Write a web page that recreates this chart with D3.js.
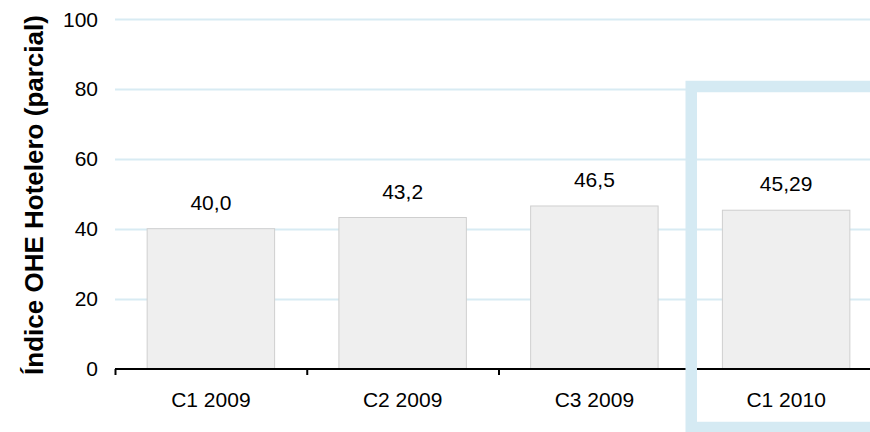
<!DOCTYPE html>
<html><head><meta charset="utf-8">
<script src="https://cdn.jsdelivr.net/npm/d3@7"></script>
<style>body{margin:0;background:#fff}svg{display:block}text{font-family:Arial,"Liberation Sans",sans-serif}</style>
</head><body>
<script>
const categories = ["C1 2009","C2 2009","C3 2009","C1 2010"];
const values = [40.0, 43.2, 46.5, 45.29];
const valueLabels = ["40,0","43,2","46,5","45,29"];
const yTicks = [0,20,40,60,80,100];
const highlighted = "C1 2010";

const W=870,H=432;
const svg=d3.select("body").append("svg").attr("width",W).attr("height",H);
const x=d3.scaleBand().domain(categories).range([115,882]).paddingInner(0.33).paddingOuter(0.165);
const xb=d3.scaleBand().domain(categories).range([115,882]);
const y=d3.scaleLinear().domain([0,100]).range([368.5,19]);

// grid
svg.append("g").selectAll("line").data(yTicks.filter(d=>d>0)).join("line")
 .attr("x1",115).attr("x2",W).attr("y1",d=>Math.round(y(d))+0.5).attr("y2",d=>Math.round(y(d))+0.5)
 .attr("stroke","#d8ebf3").attr("stroke-width",2);
// y labels
svg.append("g").selectAll("text").data(yTicks).join("text")
 .attr("x",98).attr("y",d=>y(d)+7.5).attr("text-anchor","end")
 .attr("font-size",21).attr("fill","#000").text(d=>d);
// bars
svg.append("g").selectAll("rect").data(values).join("rect")
 .attr("x",(d,i)=>x(categories[i])+0.5).attr("width",x.bandwidth()-1)
 .attr("y",d=>y(d)).attr("height",d=>y(0)-y(d))
 .attr("fill","#efefef").attr("stroke","#cfcfcf").attr("stroke-width",1);
// value labels
svg.append("g").selectAll("text").data(values).join("text")
 .attr("x",(d,i)=>x(categories[i])+x.bandwidth()/2).attr("y",d=>y(d)-19)
 .attr("text-anchor","middle").attr("font-size",21).attr("fill","#000")
 .text((d,i)=>valueLabels[i]);
// x axis
const xAxis=svg.append("g").attr("transform","translate(0,369)");
xAxis.append("line").attr("x1",115).attr("x2",W).attr("stroke","#000").attr("stroke-width",2);
xAxis.selectAll("line.tick").data(categories).join("line").attr("class","tick")
 .attr("x1",d=>xb(d)+0.5).attr("x2",d=>xb(d)+0.5).attr("y1",0).attr("y2",6)
 .attr("stroke","#000").attr("stroke-width",2);
xAxis.selectAll("text").data(categories).join("text")
 .attr("x",d=>xb(d)+xb.bandwidth()/2).attr("y",38).attr("text-anchor","middle")
 .attr("font-size",21).attr("fill","#000").text(d=>d);
// y title
svg.append("text").attr("transform","translate(43,195) rotate(-90)")
 .attr("text-anchor","middle").attr("font-size",26).attr("font-weight","bold").attr("fill","#000")
 .text("Índice OHE Hotelero (parcial)");
// highlight box
const hx=xb(highlighted);
svg.append("rect").attr("x",hx+1).attr("y",86.5).attr("width",xb.bandwidth()).attr("height",341)
 .attr("fill","none").attr("stroke","#d5eaf3").attr("stroke-width",11.5);
</script>
</body></html>
